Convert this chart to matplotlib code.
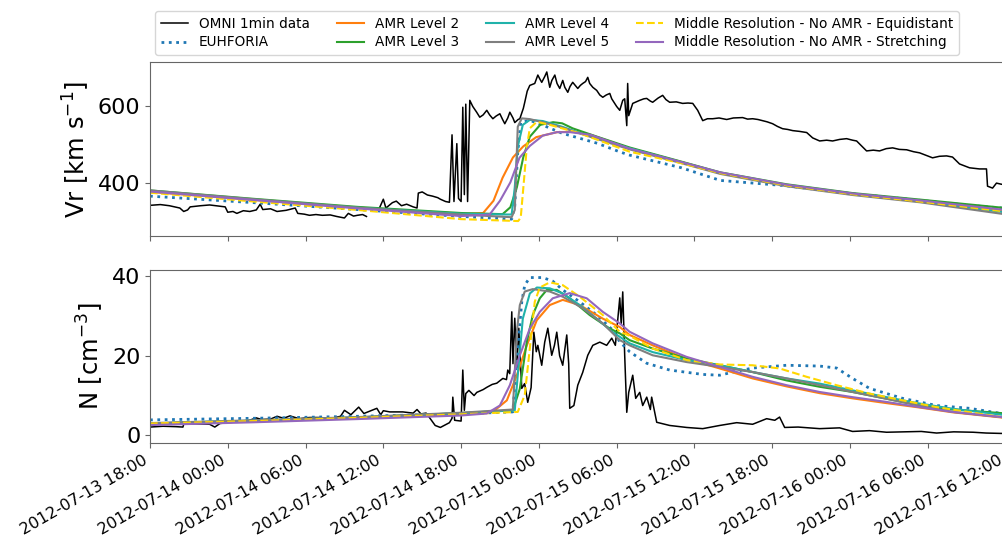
import numpy as np
import pandas as pd
import matplotlib
matplotlib.use('Agg')
import matplotlib.pyplot as plt
import matplotlib.dates as mdates

# time axis: hours after 2012-07-13 18:00
start = pd.Timestamp('2012-07-13 18:00')

# OMNI 1min data (speed)
omni_v_h = [0, 0.8, 1.5, 2.3, 2.6, 2.9, 3.1, 3.9, 4.6, 5.3, 5.8, 6.0, 6.4, 6.7, 7.2, 7.7, 8.2, 8.5, 8.7,
            9.3, 9.8, 10.5, 11.2, 11.4, 11.9, 12.3, 12.8, 13.3, 13.9, 14.4, 15.0, 15.3, 15.7, 16.0, 16.4,
            16.7, 17.2, 17.7, 18.0, 18.2, 18.7, 19.0, 19.4, 19.8, 20.3, 20.6, 20.7, 21.0, 21.4, 21.8, 22.2,
            22.4, 22.8, 23.1, 23.3, 23.45, 23.67, 23.8, 24.0, 24.13, 24.25, 24.36, 24.5, 24.67, 24.9, 25.2,
            25.44, 25.7, 25.98, 26.2, 26.45, 26.7, 26.99, 27.2, 27.37, 27.6, 27.76, 28.0, 28.14, 28.4,
            28.53, 28.8, 28.91, 29.1, 29.3, 29.68, 29.92, 30.07, 30.22, 30.45, 30.61, 30.84, 31.0, 31.23,
            31.4, 31.61, 31.84, 32.0, 32.23, 32.4, 32.61, 32.8, 33.0, 33.2, 33.38, 33.6, 33.77, 33.92,
            34.16, 34.46, 34.7, 34.93, 35.2, 35.47, 35.62, 35.85, 36.0, 36.24, 36.47, 36.62, 36.78, 36.85,
            36.93, 37.24, 37.5, 37.78, 38.1, 38.32, 38.6, 38.78, 39.2, 39.55, 39.8, 40.09, 40.6, 41.09,
            41.5, 41.87, 42.25, 42.64, 43.0, 43.41, 43.9, 44.49, 45.0, 45.72, 46.1, 46.49, 46.9, 47.26,
            47.6, 48.03, 48.4, 48.8, 49.2, 49.58, 50.1, 50.66, 51.12, 51.66, 52.2, 52.66, 53.2, 53.74,
            54.2, 54.51, 55.28, 55.8, 56.28, 56.8, 57.29, 57.8, 58.37, 58.9, 59.37, 59.9, 60.37, 60.9,
            61.45, 61.91, 62.45, 63.22, 63.99, 64.53, 64.61, 65.0, 65.3, 65.69, 66.2]
omni_v = [342, 344, 341, 335, 326, 330, 338, 341, 343, 340, 338, 324, 326, 321, 328, 326, 330, 345, 331,
          333, 326, 329, 335, 321, 319, 316, 318, 316, 317, 313, 309, 321, 314, 316, 318,
          313, np.nan, 335, 358, 335, 349, 353, 341, 345, 338, 335, 374, 377, 369, 366, 362,
          358, 352, 350, 526, 352, 503, 360, 352, 598, 370, 606, 352, 616, 600, 585,
          572, 578, 590, 578, 568, 575, 581, 566, 555, 570, 585, 570, 558, 566,
          568, 595, 611, 640, 655, 660, 682, 672, 663, 678, 690, 650, 668, 682,
          660, 647, 668, 650, 637, 652, 663, 655, 647, 655, 660, 665, 676, 660,
          650, 642, 630, 624, 630, 634, 620, 608, 600, 590, 616, 620, 550, 660,
          576, 608, 612, 616, 620, 621, 614, 611, 622, 629, 618, 611, 612, 608,
          609, 608, 590, 563, 568, 568, 570, 566, 570, 571, 567, 568, 566, 563,
          560, 555, 548, 542, 540, 537, 535, 532, 518, 510, 512, 510, 514, 516,
          512, 510, 484, 486, 484, 490, 492, 488, 487, 482, 479, 472, 466, 470,
          471, 468, 450, 440, 437, 437, 392, 387, 400, 397, 395]

# OMNI 1min data (density)
omni_n_h = [0, 1.0, 2.0, 2.54, 2.6, 3.5, 4.6, 5.0, 5.4, 6.0, 6.7, 7.5, 8.2, 8.6, 9.3, 9.8, 10.3, 10.8,
            11.5, 12.3, 13.0, 14.0, 14.7, 15.0, 15.5, 16.1, 16.5, 17.5, 17.8, 18.0, 18.5, 19.5, 20.3,
            20.6, 20.9, 21.3, 21.6, 22.0, 22.4, 23.1, 23.3, 23.36, 23.5, 24.0, 24.13, 24.25, 24.36, 24.6,
            25.0, 25.21, 25.7, 26.0, 26.4, 26.75, 27.22, 27.5, 27.6, 27.75, 27.91, 28.0, 28.14, 28.3,
            28.45, 28.68, 28.9, 29.14, 29.4, 29.61, 29.8, 29.92, 30.22, 30.45, 30.69, 30.99, 31.2, 31.38,
            31.6, 31.84, 32.15, 32.3, 32.38, 32.7, 33.0, 33.38, 33.77, 34.16, 34.7, 35.23, 35.62, 35.9,
            36.24, 36.35, 36.47, 36.62, 36.78, 36.93, 37.24, 37.47, 37.78, 38.01, 38.32, 38.6, 38.7,
            39.09, 40.09, 41.4, 42.64, 43.95, 45.26, 46.49, 47.57, 48.2, 48.57, 48.96, 50.0, 51.66,
            53.2, 54.2, 55.5, 56.82, 58.0, 59.5, 60.68, 62.0, 63.5, 64.5, 65.69, 66.2]
omni_n = [2.1, 2.3, 2.2, 2.1, 2.8, 2.9, 2.8, 2.1, 3.0, 3.2, 3.4, 3.6, 4.4, 4.0, 4.1, 4.8, 4.3, 4.9,
          4.2, 4.5, 4.5, 4.3, 4.8, 6.3, 5.2, 7.1, 5.5, 6.8, 5.2, 6.2, 5.9, 5.9, 5.6,
          6.5, 5.4, 5.6, 4.3, 2.5, 2.0, 3.2, 4.3, 9.6, 3.8, 3.6, 16.4, 6.3, 10.5, 11.3,
          10.0, 10.8, 11.5, 12.1, 12.8, 13.1, 14.3, 14.0, 16.4, 15.5, 31.0, 18.0, 29.4, 17.0,
          26.9, 11.8, 13.0, 8.3, 12.0, 25.9, 21.0, 22.6, 17.6, 23.4, 26.9, 20.1, 22.6, 25.9,
          20.0, 17.6, 25.2, 18.0, 6.8, 7.5, 12.6, 15.8, 20.1, 22.6, 23.4, 22.6, 24.4, 22.6,
          34.5, 28.0, 36.0, 20.1, 5.8, 10.8, 15.1, 9.3, 10.8, 7.5, 9.6, 6.5, 9.6,
          3.3, 2.5, 2.0, 1.7, 2.5, 3.2, 2.8, 4.2, 3.8, 4.6, 2.0, 2.1, 1.7,
          1.9, 1.0, 1.2, 0.8, 0.9, 1.0, 0.6, 0.9, 0.8, 0.6, 0.5, 0.6]

# EUHFORIA
euh_v_h = [0, 8, 16, 24, 27.9, 28.14, 28.37, 28.6, 29.3, 30.6, 31.8, 34.5, 36.2, 37.0, 41, 44, 49.1,
           54.2, 59.4, 63.2, 65.7, 66.5]
euh_v = [366, 349, 331, 313, 306, 340, 480, 558, 564, 547, 530, 504, 482, 473, 440, 407, 393,
         372, 355, 342, 335, 333]
euh_n_h = [0, 8, 16, 24, 27.99, 28.37, 28.68, 28.91, 29.3, 30.3, 31.07, 31.84, 33.15, 34.46, 35.7,
           36.24, 37.0, 38.32, 40.09, 42.64, 43.95, 45.26, 46.49, 49.11, 51.66, 52.97, 54.2, 55.51,
           58.06, 60.68, 63.22, 65.69, 66.5]
euh_n = [3.9, 4.3, 4.8, 5.4, 5.9, 21.8, 33.5, 37.7, 39.6, 39.6, 38.7, 36.5, 33.5, 30.2, 26.4,
         23.5, 21.0, 18.1, 16.4, 15.3, 15.1, 16.1, 16.9, 17.6, 17.4, 16.9, 14.3, 11.8,
         9.3, 7.5, 6.8, 5.5, 5.3]

# AMR Level 2
amr2_v_h = [0, 8, 16, 24, 25.7, 26.5, 27.2, 28.0, 28.8, 29.8, 31.4, 32.6, 33.9, 37.0, 41.0, 44.0,
            49.1, 54.2, 59.4, 65.7, 66.5]
amr2_v = [377, 356, 336, 319, 322, 354, 414, 467, 496, 520, 533, 534, 527, 491, 455, 427,
          395, 372, 354, 330, 327]
amr2_n_h = [0, 8, 16, 24, 26.45, 27.53, 28.3, 29.07, 29.84, 30.84, 31.84, 33.15, 34.93, 36.24, 37.0,
            38.78, 41.4, 43.95, 46.49, 49.11, 51.66, 54.2, 56.82, 59.37, 61.91, 65.69, 66.5]
amr2_n = [2.9, 3.5, 4.3, 5.3, 5.9, 8.8, 15.1, 22.6, 28.9, 32.7, 34.0, 32.7, 29.3, 27.2, 25.2,
          22.6, 19.2, 16.8, 14.3, 12.3, 10.6, 9.3, 8.1, 7.0, 5.8, 4.5, 4.3]

# AMR Level 3
amr3_v_h = [0, 8, 16, 24, 27.2, 27.8, 28.3, 28.8, 29.3, 30.1, 31.1, 31.8, 32.6, 34.5, 37.0, 41, 44,
            49.1, 54.2, 59.4, 65.7, 66.5]
amr3_v = [381, 359, 338, 322, 319, 337, 389, 468, 521, 552, 559, 556, 543, 521, 493, 456, 428,
          397, 374, 357, 336, 334]
amr3_n_h = [0, 8, 16, 24, 27.99, 28.53, 29.07, 29.53, 30.07, 30.61, 31.38, 32.38, 33.92, 35.47,
            36.24, 37.0, 38.78, 41.4, 43.95, 46.49, 49.11, 51.66, 54.2, 56.82, 59.37, 61.91, 65.69, 66.5]
amr3_n = [3.0, 3.7, 4.5, 5.6, 6.3, 11.7, 23.5, 30.2, 34.4, 36.5, 36.5, 34.4, 30.2, 26.8,
          25.6, 23.9, 21.8, 19.3, 17.6, 15.9, 13.8, 12.2, 10.9, 9.2, 7.5, 6.5, 5.6, 5.4]

# AMR Level 4
amr4_v_h = [0, 8, 16, 24, 27.9, 28.14, 28.37, 28.76, 29.3, 30.3, 31.8, 33.5, 37.0, 41, 44, 49.1,
            54.2, 59.4, 65.7, 66.5]
amr4_v = [380, 357, 336, 320, 318, 389, 495, 552, 565, 562, 547, 527, 491, 454, 426, 394,
          371, 352, 325, 322]
amr4_n_h = [0, 8, 16, 24, 28.14, 28.37, 28.76, 29.3, 29.84, 30.84, 31.84, 33.15, 34.46, 35.7, 37.0,
            38.78, 41.4, 43.95, 46.49, 49.11, 51.66, 54.2, 56.82, 59.37, 61.91, 65.69, 66.5]
amr4_n = [3.0, 3.7, 4.5, 5.6, 6.3, 15.1, 29.3, 35.6, 37.1, 36.9, 35.6, 32.7, 29.3, 25.9, 23.1,
          20.9, 18.9, 17.6, 15.9, 14.3, 13.0, 11.3, 9.6, 8.0, 6.7, 5.2, 5.0]

# AMR Level 5
amr5_v_h = [0, 8, 16, 24, 27.9, 28.14, 28.37, 28.68, 29.3, 30.3, 31.8, 33.5, 37.0, 41, 44, 49.1,
            54.2, 59.4, 65.7, 66.5]
amr5_v = [381, 358, 336, 318, 311, 330, 547, 569, 567, 559, 545, 526, 488, 452, 424, 392,
          369, 350, 320, 317]
amr5_n_h = [0, 8, 16, 24, 27.99, 28.3, 28.53, 28.91, 29.53, 30.84, 31.84, 33.38, 34.93, 36.24, 37.0,
            38.78, 41.4, 43.95, 46.49, 49.11, 51.66, 54.2, 56.82, 59.37, 61.91, 65.69, 66.5]
amr5_n = [3.1, 3.8, 4.6, 5.7, 6.5, 26.0, 32.7, 36.1, 36.7, 36.1, 34.8, 31.9, 28.1, 23.9, 22.6,
          20.1, 18.4, 17.2, 15.9, 14.3, 12.6, 10.9, 9.2, 7.5, 5.9, 4.6, 4.4]

# Middle Resolution - No AMR - Equidistant
equi_v_h = [0, 8, 16, 24, 28.4, 28.6, 28.76, 29.07, 29.3, 29.84, 30.84, 33.15, 37.0, 41, 44, 49.1,
            54.2, 59.4, 65.7, 66.5]
equi_v = [375, 352, 330, 306, 301, 310, 372, 494, 543, 560, 552, 530, 482, 452, 426, 394,
          371, 352, 327, 324]
equi_n_h = [0, 8, 16, 24, 28.37, 28.91, 29.3, 29.68, 30.07, 30.84, 31.84, 33.15, 34.93, 36.24, 37.0,
            38.78, 41.4, 43.95, 46.49, 48.57, 50.66, 52.97, 55.5, 58.06, 60.68, 65.69, 66.5]
equi_n = [3.0, 3.6, 4.4, 5.3, 5.9, 10.1, 21.8, 33.5, 37.1, 38.4, 37.7, 34.8, 30.2, 26.0, 25.0,
          21.8, 18.9, 17.8, 17.6, 16.8, 14.7, 12.6, 10.5, 8.8, 7.1, 4.6, 4.4]

# Middle Resolution - No AMR - Stretching
stre_v_h = [0, 8, 16, 24, 26.2, 27.0, 27.8, 28.5, 29.3, 30.3, 31.4, 32.4, 34.0, 37.0, 41, 44, 49.1,
            54.2, 59.4, 65.7, 66.5]
stre_v = [378, 356, 334, 314, 318, 354, 402, 466, 497, 524, 533, 533, 526, 490, 455, 428, 396,
          373, 355, 331, 328]
stre_n_h = [0, 8, 16, 24, 25.98, 26.99, 27.76, 28.53, 29.3, 30.07, 31.07, 32.38, 33.69, 34.93,
            36.24, 37.0, 38.78, 41.4, 43.95, 46.49, 49.11, 51.66, 54.2, 56.82, 59.37, 61.91, 65.69, 66.5]
stre_n = [2.6, 3.3, 4.1, 5.0, 5.5, 7.5, 12.6, 20.1, 26.8, 31.0, 34.4, 35.7, 34.4, 31.0,
          28.1, 26.0, 23.1, 19.7, 17.2, 14.7, 12.6, 10.9, 9.6, 8.4, 7.1, 5.9, 4.6, 4.4]


def to_time(hours):
    return start + pd.to_timedelta(np.asarray(hours, dtype=float), unit='h')


series = [
    ('OMNI 1min data', omni_v_h, omni_v, omni_n_h, omni_n, dict(color='black', lw=1.1)),
    ('EUHFORIA', euh_v_h, euh_v, euh_n_h, euh_n, dict(color='tab:blue', lw=2.0, ls=':')),
    ('AMR Level 2', amr2_v_h, amr2_v, amr2_n_h, amr2_n, dict(color='tab:orange', lw=1.5)),
    ('AMR Level 3', amr3_v_h, amr3_v, amr3_n_h, amr3_n, dict(color='tab:green', lw=1.5)),
    ('AMR Level 4', amr4_v_h, amr4_v, amr4_n_h, amr4_n, dict(color='lightseagreen', lw=1.5)),
    ('AMR Level 5', amr5_v_h, amr5_v, amr5_n_h, amr5_n, dict(color='tab:gray', lw=1.5)),
    ('Middle Resolution - No AMR - Equidistant', equi_v_h, equi_v, equi_n_h, equi_n,
     dict(color='gold', lw=1.5, ls='--')),
    ('Middle Resolution - No AMR - Stretching', stre_v_h, stre_v, stre_n_h, stre_n,
     dict(color='tab:purple', lw=1.5)),
]

fig = plt.figure(figsize=(10.02, 5.36), dpi=100)
ax1 = fig.add_axes([0.1497, 0.5597, 0.8603, 0.3246])
ax2 = fig.add_axes([0.1497, 0.1735, 0.8603, 0.3228], sharex=ax1)

handles = []
for label, vh, v, nh, n, style in series:
    line, = ax1.plot(to_time(vh), v, label=label, **style)
    ax2.plot(to_time(nh), n, **style)
    handles.append(line)

ax1.set_ylim(262, 716)
ax1.set_yticks([400, 600])
ax2.set_ylim(-1.9, 41.5)
ax2.set_yticks([0, 20, 40])
ax1.set_xlim(start, start + pd.Timedelta(hours=66.5))

ax1.set_ylabel(r'Vr [km s$^{-1}$]', fontsize=17.5)
ax2.set_ylabel(r'N [cm$^{-3}$]', fontsize=17.5)

ax2.xaxis.set_major_locator(mdates.HourLocator(byhour=[0, 6, 12, 18]))
ax2.xaxis.set_major_formatter(mdates.DateFormatter('%Y-%m-%d %H:%M'))
plt.setp(ax1.get_xticklabels(), visible=False)
for lab in ax2.get_xticklabels():
    lab.set_rotation(30)
    lab.set_ha('right')
    lab.set_fontsize(11.5)

for ax in (ax1, ax2):
    ax.tick_params(axis='y', labelsize=16)
    for sp in ax.spines.values():
        sp.set_color('#666666')
    ax.tick_params(color='#666666')

fig.legend(handles=handles, loc='upper center', bbox_to_anchor=(0.556, 0.992), ncol=4,
           fontsize=9.8, labelspacing=0.35)

fig.savefig('out.png', dpi=100)
